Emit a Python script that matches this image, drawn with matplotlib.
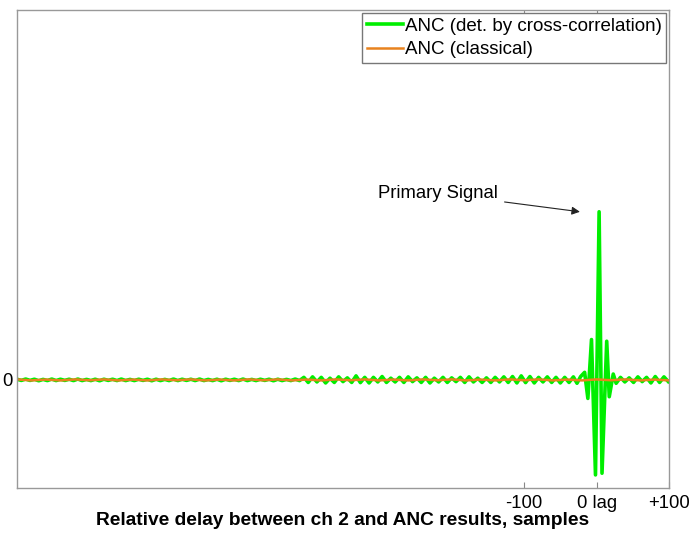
import matplotlib
matplotlib.use('Agg')
import matplotlib.pyplot as plt
import numpy as np

plt.rcParams['font.family'] = ['Liberation Sans', 'DejaVu Sans']

# lags (samples) of the green trace, far part sampled every 6 samples, peak region by hand
far_lags = list(range(-800, -30, 6))
peak_lags = [-27, -22, -16.5, -12, -7, -1.5, 3.5, 7.5, 14, 17.5, 23, 27,
             33, 39, 45, 51, 57, 63, 69, 75, 81, 87, 93, 99]

far_quiet = [0.004, -0.003, 0.005, -0.003, 0.004, -0.005, 0.003, -0.004, 0.005, -0.004,
             0.004, -0.003, 0.004, -0.004, 0.005, -0.004, 0.003, -0.004, 0.004, -0.005,
             0.004, -0.003, 0.004, -0.004, 0.005, -0.004, 0.003, -0.004, 0.004, -0.003,
             0.004, -0.005, 0.004, -0.004, 0.003, -0.004, 0.005, -0.004, 0.004, -0.003,
             0.004, -0.004, 0.005, -0.004, 0.003, -0.004, 0.004, -0.005, 0.004, -0.003,
             0.004, -0.004, 0.005, -0.004, 0.003, -0.004, 0.004, -0.003, 0.004, -0.005,
             0.004, -0.004, 0.003, -0.004, 0.005, -0.004]
far_busy = [0.015, -0.015, 0.018, -0.012, 0.015, -0.018, 0.01, -0.015, 0.018, -0.01,
            0.012, -0.015, 0.024, -0.016, 0.015, -0.018, 0.015, -0.012, 0.02, -0.015,
            0.01, -0.012, 0.015, -0.015, 0.018, -0.01, 0.012, -0.015, 0.015, -0.018,
            0.01, -0.012, 0.015, -0.015, 0.012, -0.01, 0.015, -0.015, 0.018, -0.012,
            0.01, -0.015, 0.012, -0.015, 0.015, -0.012, 0.018, -0.015, 0.02, -0.018,
            0.024, -0.016, 0.02, -0.018, 0.015, -0.012, 0.018, -0.015, 0.015, -0.018,
            0.015, -0.015, 0.018]
peak_vals = [-0.02, 0.02, 0.045, -0.11, 0.24, -0.565, 1.0, -0.555, 0.23, -0.10, 0.035, -0.02,
             0.015, -0.012, 0.012, -0.015, 0.018, -0.01, 0.015, -0.018, 0.02, -0.015, 0.018, -0.01]

green_lags = far_lags + peak_lags
green_vals = far_quiet + far_busy + peak_vals

orange_lags = list(range(-800, 101, 20))
orange_vals = [0.003, -0.003, 0.002, -0.003, 0.003, -0.002, 0.003, -0.003, 0.002, -0.003,
               0.003, -0.002, 0.003, -0.003, 0.002, -0.003, 0.003, -0.002, 0.003, -0.003,
               0.002, -0.003, 0.003, -0.002, 0.003, -0.003, 0.002, -0.003, 0.003, -0.002,
               0.003, -0.003, 0.002, -0.003, 0.003, -0.002, 0.003, -0.003, 0.002, -0.003,
               0.003, -0.002, 0.003, -0.003, 0.002, -0.003]

xtick_pos = [-100, 0, 100]
xtick_labels = ['-100', '0 lag', '+100']

fig = plt.figure(figsize=(6.93, 5.33), dpi=100)
ax = fig.add_axes([0.0245, 0.0844, 0.9409, 0.8968])

ax.plot(green_lags, green_vals, color='#00ee00', lw=2.6,
        label='ANC (det. by cross-correlation)')
ax.plot(orange_lags, orange_vals, color='#e8821e', lw=1.8, label='ANC (classical)')

ax.annotate('Primary Signal', xy=(-23, 1.0), xytext=(-302, 1.11),
            fontsize=13.3, va='center', ha='left',
            arrowprops=dict(arrowstyle='-|>', color='#222222', lw=0.8,
                            shrinkA=3, shrinkB=0, mutation_scale=12))

ax.set_xlim(-800, 100)
ax.set_ylim(-0.643, 2.2)
ax.set_xticks(xtick_pos)
ax.set_xticklabels(xtick_labels, fontsize=13.3)
ax.set_yticks([0])
ax.set_yticklabels(['0'], fontsize=13.3)
ax.tick_params(axis='x', direction='in', top=True, length=4, color='#888888', pad=5)
ax.tick_params(axis='y', length=0, pad=3)
for s in ax.spines.values():
    s.set_color('#999999')
    s.set_linewidth(1.0)

ax.set_xlabel('Relative delay between ch 2 and ANC results, samples',
              fontsize=13.8, fontweight='bold', labelpad=0)

leg = ax.legend(loc='upper right', fontsize=13.5, handlelength=1.9, handletextpad=0.1,
                borderaxespad=0.15, borderpad=0.25, labelspacing=0.35, fancybox=False,
                framealpha=1)
leg.get_frame().set_edgecolor('#777777')
leg.get_frame().set_linewidth(1.0)

fig.savefig('out.png', dpi=100)
